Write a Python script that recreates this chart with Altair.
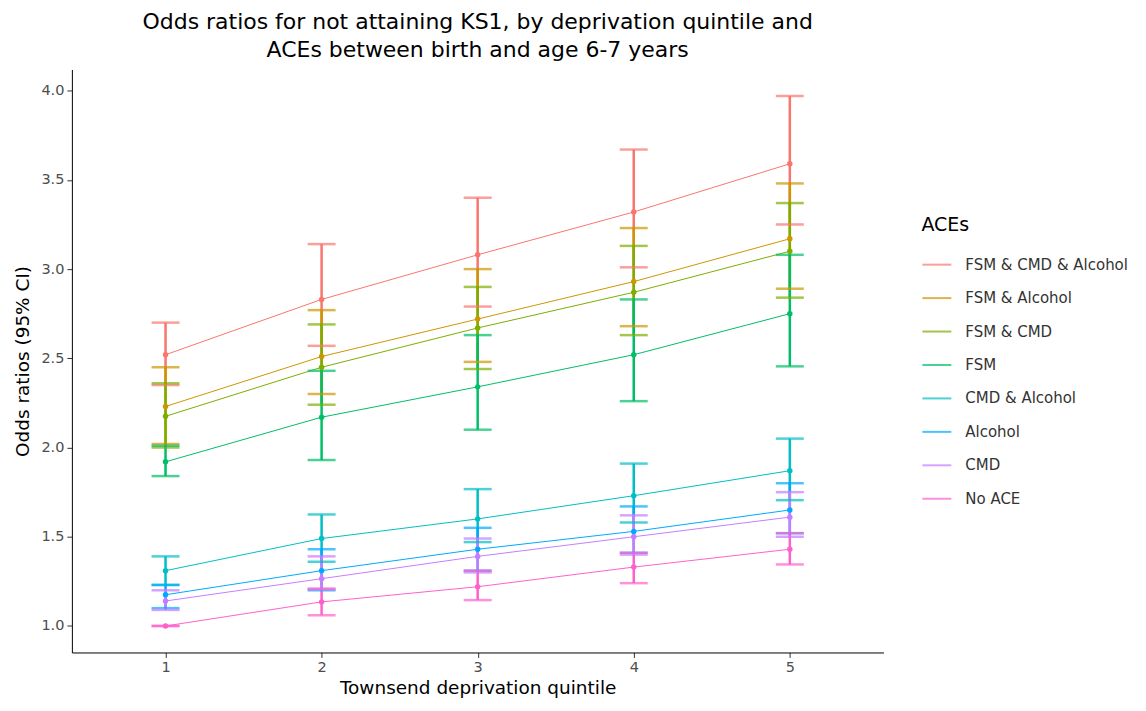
import altair as alt
import pandas as pd

quintiles = [1, 2, 3, 4, 5]
series_names = ["FSM & CMD & Alcohol", "FSM & Alcohol", "FSM & CMD", "FSM",
                "CMD & Alcohol", "Alcohol", "CMD", "No ACE"]
colors = ["#F8766D", "#CD9600", "#7CAE00", "#00BE67",
          "#00BFC4", "#00A9FF", "#C77CFF", "#FF61CC"]

or_fsm_cmd_alc = [2.52, 2.83, 3.08, 3.32, 3.59]
lo_fsm_cmd_alc = [2.35, 2.57, 2.79, 3.01, 3.25]
hi_fsm_cmd_alc = [2.70, 3.14, 3.40, 3.67, 3.97]

or_fsm_alc = [2.23, 2.51, 2.72, 2.93, 3.17]
lo_fsm_alc = [2.02, 2.30, 2.48, 2.68, 2.89]
hi_fsm_alc = [2.45, 2.77, 3.00, 3.23, 3.48]

or_fsm_cmd = [2.175, 2.45, 2.67, 2.87, 3.10]
lo_fsm_cmd = [2.00, 2.24, 2.44, 2.63, 2.84]
hi_fsm_cmd = [2.36, 2.69, 2.90, 3.13, 3.37]

or_fsm = [1.92, 2.17, 2.34, 2.52, 2.75]
lo_fsm = [1.84, 1.93, 2.10, 2.26, 2.455]
hi_fsm = [2.01, 2.43, 2.63, 2.83, 3.08]

or_cmd_alc = [1.31, 1.49, 1.60, 1.73, 1.87]
lo_cmd_alc = [1.23, 1.36, 1.47, 1.58, 1.705]
hi_cmd_alc = [1.39, 1.625, 1.767, 1.91, 2.05]

or_alc = [1.175, 1.31, 1.43, 1.53, 1.65]
lo_alc = [1.10, 1.20, 1.31, 1.41, 1.52]
hi_alc = [1.23, 1.43, 1.55, 1.67, 1.80]

or_cmd = [1.14, 1.265, 1.39, 1.50, 1.61]
lo_cmd = [1.09, 1.205, 1.30, 1.40, 1.50]
hi_cmd = [1.20, 1.39, 1.49, 1.62, 1.75]

or_none = [1.0, 1.135, 1.22, 1.33, 1.43]
lo_none = [1.0, 1.06, 1.145, 1.24, 1.345]
hi_none = [1.0, 1.21, 1.31, 1.41, 1.52]

series_data = [
    (or_fsm_cmd_alc, lo_fsm_cmd_alc, hi_fsm_cmd_alc),
    (or_fsm_alc, lo_fsm_alc, hi_fsm_alc),
    (or_fsm_cmd, lo_fsm_cmd, hi_fsm_cmd),
    (or_fsm, lo_fsm, hi_fsm),
    (or_cmd_alc, lo_cmd_alc, hi_cmd_alc),
    (or_alc, lo_alc, hi_alc),
    (or_cmd, lo_cmd, hi_cmd),
    (or_none, lo_none, hi_none),
]

rows = []
for name, (o, l, h) in zip(series_names, series_data):
    for q, ov, lv, hv in zip(quintiles, o, l, h):
        rows.append({"ACEs": name, "q": q, "or": ov, "lo": lv, "hi": hv})
df = pd.DataFrame(rows)

FONT = "DejaVu Sans"

xscale = alt.Scale(domain=[0.4, 5.6], nice=False, zero=False)
yscale = alt.Scale(domain=[0.8515, 4.1185], nice=False, zero=False)
cscale = alt.Scale(domain=series_names, range=colors)

base = alt.Chart(df)

x_enc = alt.X("q:Q", scale=xscale,
              axis=alt.Axis(title="Townsend deprivation quintile", values=quintiles,
                            format="d", grid=False))
y_enc = alt.Y("or:Q", scale=yscale,
              axis=alt.Axis(title="Odds ratios (95% CI)", values=[1.0, 1.5, 2.0, 2.5, 3.0, 3.5, 4.0],
                            format=".1f", grid=False, titlePadding=8))
color_enc = alt.Color("ACEs:N", scale=cscale, sort=series_names,
                      legend=alt.Legend(title="ACEs", orient="none", legendX=851, legendY=147,
                                        symbolType="stroke", symbolSize=841, symbolStrokeWidth=2,
                                        rowPadding=9.5, labelFontSize=15, titleFontSize=19,
                                        titleFontWeight="normal", labelColor="#333333",
                                        titleColor="#000000", titlePadding=14, labelOffset=13,
                                        labelLimit=300))

lines = base.mark_line(strokeWidth=1).encode(x=x_enc, y=y_enc, color=color_enc, detail="ACEs:N")
bars = base.mark_rule(strokeWidth=2.5).encode(x="q:Q", y="lo:Q", y2="hi:Q", color=color_enc)
caps_lo = base.mark_tick(orient="horizontal", size=28, thickness=2.5).encode(x="q:Q", y="lo:Q", color=color_enc)
caps_hi = base.mark_tick(orient="horizontal", size=28, thickness=2.5).encode(x="q:Q", y="hi:Q", color=color_enc)
points = base.mark_point(filled=True, size=30, opacity=1).encode(x="q:Q", y="or:Q", color=color_enc)

chart = alt.layer(lines, bars, caps_lo, caps_hi, points).properties(
    width=813, height=584,
    title=alt.TitleParams(
        text=["Odds ratios for not attaining KS1, by deprivation quintile and",
              "ACEs between birth and age 6-7 years"],
        anchor="middle", frame="group", fontSize=22, fontWeight="normal",
        font=FONT, color="#000000", lineHeight=28, offset=8),
    autosize=alt.AutoSizeParams(type="none"),
    padding={"left": 64, "top": 61, "right": 255, "bottom": 50},
).configure_view(stroke=None).configure_axis(
    domainColor="#000000", domainWidth=1, tickColor="#333333", tickSize=5,
    labelFont=FONT, titleFont=FONT, labelFontSize=14.5, labelColor="#4D4D4D",
    titleFontSize=18.5, titleFontWeight="normal", titleColor="#000000",
    labelPadding=3, titlePadding=5,
).configure_legend(labelFont=FONT, titleFont=FONT)

chart.save("out.html", embed_options={"renderer": "svg", "actions": False})
